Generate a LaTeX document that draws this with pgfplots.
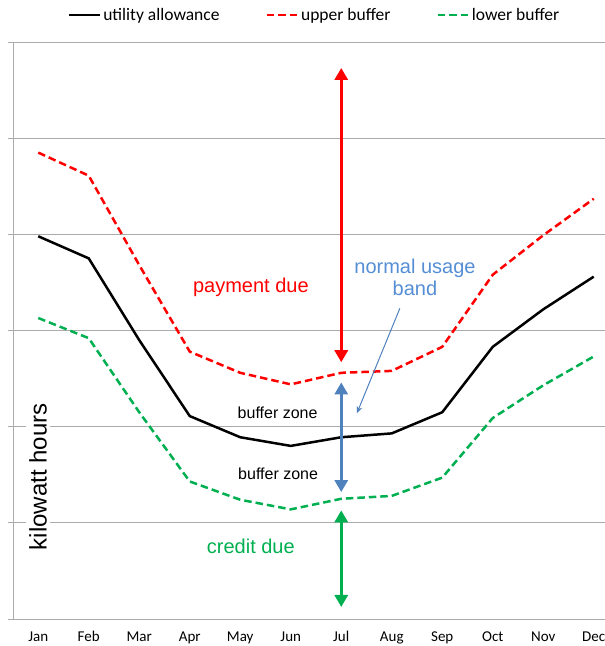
\documentclass[border=0pt]{standalone}
\usepackage{fontspec}
\setmainfont{Carlito}
\newfontfamily\arialf{Liberation Sans}
\usepackage{pgfplots}
\pgfplotsset{compat=1.18}
\usepackage{pgfplotstable}
\usetikzlibrary{arrows.meta}
\definecolor{xred}{HTML}{FF0000}
\definecolor{xgreen}{HTML}{00B050}
\definecolor{xblue}{HTML}{4F81BD}
\definecolor{xbluetxt}{HTML}{558ED5}
\definecolor{xgrid}{HTML}{ABABAB}

\pgfplotstableread{
m ua ub lb
1 3.98 4.85 3.13
2 3.75 4.61 2.92
3 2.90 3.68 2.15
4 2.11 2.78 1.43
5 1.89 2.56 1.24
6 1.80 2.44 1.14
7 1.89 2.56 1.25
8 1.93 2.58 1.28
9 2.15 2.83 1.47
10 2.83 3.58 2.09
11 3.22 3.99 2.43
12 3.56 4.37 2.73
}\data

\begin{document}
\begin{tikzpicture}
\begin{axis}[
  scale only axis,
  width=606pt, height=577pt,
  at={(0,0)}, anchor=south west,
  xmin=0.5, xmax=12.5, ymin=0, ymax=6,
  axis x line*=bottom, axis y line*=left,
  axis line style={xgrid, line width=1pt, -},
  xtick={1,...,12},
  xticklabels={Jan,Feb,Mar,Apr,May,Jun,Jul,Aug,Sep,Oct,Nov,Dec},
  x tick label style={font=\fontsize{15}{17}\selectfont, yshift=-4pt},
  extra x ticks={0.5,1.5,...,12.5},
  extra x tick labels={},
  extra x tick style={major tick length=4.5pt, tick style={xgrid, line width=1pt}},
  ytick={0,1,...,6},
  yticklabels={},
  ymajorgrids,
  major grid style={xgrid, line width=1pt},
  tick align=outside,
  major tick length=5pt,
  tick style={xgrid, line width=1pt},
  xtick style={draw=none},
  clip=false,
  legend style={at={(rel axis cs:0.4975,1.0468)}, anchor=center, draw=none, fill=none,
    legend columns=3, font=\fontsize{17.5}{20}\selectfont,
    /tikz/every even column/.append style={column sep=44pt}},
  legend image code/.code={\draw[#1] (0pt,0pt) -- (31pt,0pt);},
  legend cell align=left,
]
\addplot[black, line width=2.5pt, no markers] table[x=m, y=ua] {\data};
\addlegendentry{utility allowance}
\addplot[xred, line width=2.5pt, dash pattern=on 7.5pt off 4pt, no markers] table[x=m, y=ub] {\data};
\addlegendentry{upper buffer}
\addplot[xgreen, line width=2.5pt, dash pattern=on 7.5pt off 4pt, no markers] table[x=m, y=lb] {\data};
\addlegendentry{lower buffer}

\draw[xred, line width=3pt, {Triangle[width=13pt,length=12pt]}-{Triangle[width=13pt,length=12pt]}] (axis cs:7,5.73) -- (axis cs:7,2.67);
\draw[xblue, line width=3pt, {Triangle[width=13pt,length=12pt]}-{Triangle[width=13pt,length=12pt]}] (axis cs:7,2.46) -- (axis cs:7,1.32);
\draw[xgreen, line width=3pt, {Triangle[width=13pt,length=12pt]}-{Triangle[width=13pt,length=12pt]}] (axis cs:7,1.13) -- (axis cs:7,0.125);
\draw[xblue, line width=1pt, -{Stealth[width=6pt,length=7pt]}] (axis cs:8.16,3.23) -- (axis cs:7.31,2.14);

\node[xred, font=\arialf\fontsize{20}{24}\selectfont] at (axis cs:5.21,3.45) {payment due};
\node[xbluetxt, font=\arialf\fontsize{20}{22}\selectfont, align=center] at (axis cs:8.46,3.55) {normal usage\\band};
\node[black, font=\arialf\fontsize{16}{19}\selectfont] at (axis cs:5.74,2.14) {buffer zone};
\node[black, font=\arialf\fontsize{16}{19}\selectfont] at (axis cs:5.75,1.51) {buffer zone};
\node[xgreen, font=\arialf\fontsize{20}{24}\selectfont] at (axis cs:5.21,0.76) {credit due};
\node[black, fill=white, inner sep=3pt, rotate=90, font=\arialf\fontsize{24}{28}\selectfont] at (axis cs:0.995,1.48) {kilowatt hours};
\end{axis}
\pgfresetboundingbox
\useasboundingbox (-13pt,-27pt) rectangle (592pt,619pt);
\end{tikzpicture}
\end{document}
